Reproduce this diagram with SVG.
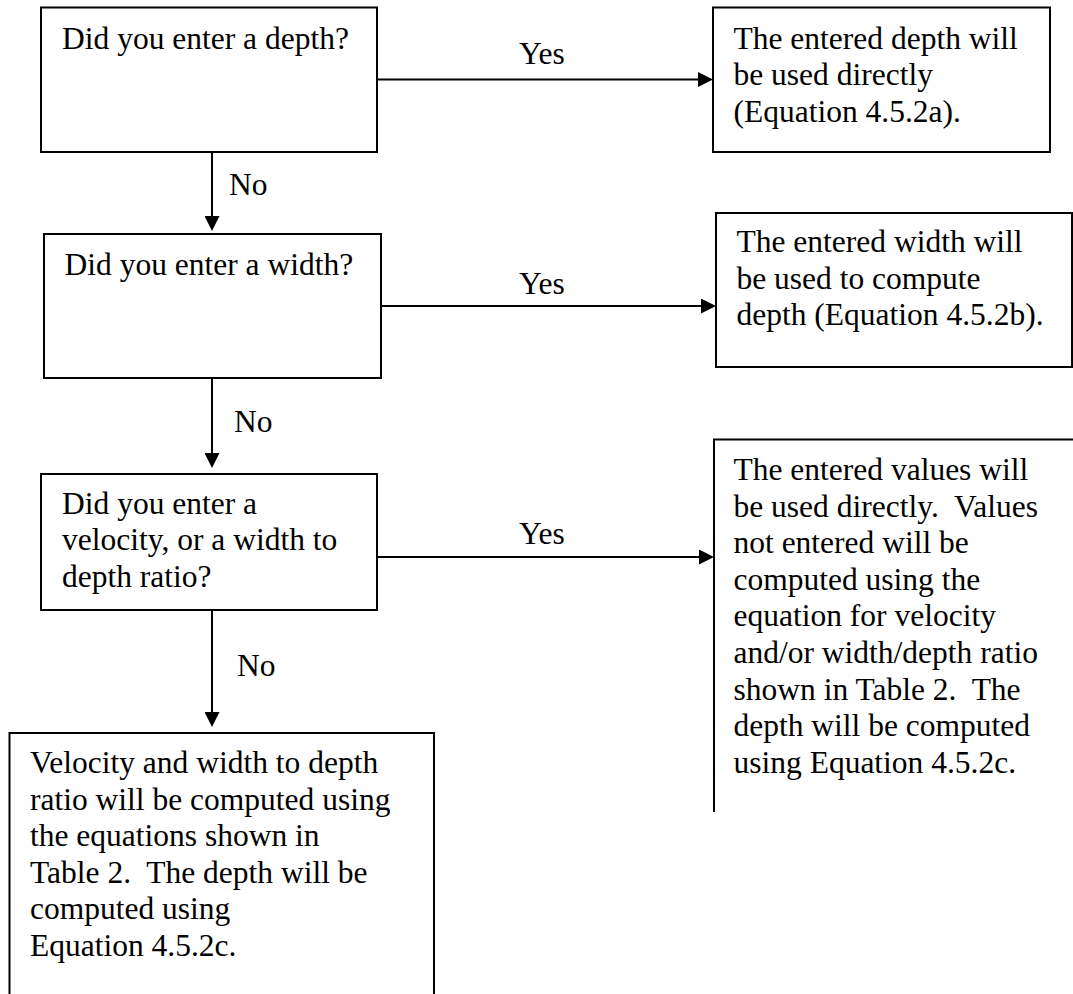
<svg xmlns="http://www.w3.org/2000/svg" width="1073" height="994" viewBox="0 0 1073 994">
<style>
.box{fill:#fff;stroke:#000;stroke-width:2}
.t{font-family:"Liberation Serif","Times New Roman",serif;font-size:31.5px;fill:#000;white-space:pre}
.c{stroke:#000;stroke-width:2;fill:none}
</style>
<defs>
<marker id="ah" viewBox="0 0 15 15" refX="13" refY="7.5" markerWidth="15" markerHeight="15" markerUnits="userSpaceOnUse" orient="auto">
<path d="M0,0 L15,7.5 L0,15 Z" fill="#000"/>
</marker>
</defs>
<rect width="1073" height="994" fill="#fff"/>
<g id="connectors">
<line class="c" x1="377" y1="79.5" x2="711" y2="79.5" marker-end="url(#ah)"/>
<text class="t" x="519" y="63.5">Yes</text>
<line class="c" x1="212" y1="152" x2="212" y2="229" marker-end="url(#ah)"/>
<text class="t" x="229" y="195">No</text>
<line class="c" x1="381" y1="306" x2="714" y2="306" marker-end="url(#ah)"/>
<text class="t" x="519" y="293.5">Yes</text>
<line class="c" x1="212" y1="378" x2="212" y2="466" marker-end="url(#ah)"/>
<text class="t" x="234" y="432">No</text>
<line class="c" x1="377" y1="557" x2="712" y2="557" marker-end="url(#ah)"/>
<text class="t" x="519" y="543.5">Yes</text>
<line class="c" x1="212" y1="610" x2="212" y2="725" marker-end="url(#ah)"/>
<text class="t" x="237" y="676">No</text>
</g>
<g id="q-depth">
<rect class="box" x="41" y="7.5" width="336" height="144.5"/>
<text class="t" x="62" y="48.5">Did you enter a depth?</text>
</g>
<g id="q-width">
<rect class="box" x="44" y="234" width="337" height="144"/>
<text class="t" x="64.5" y="275">Did you enter a width?</text>
</g>
<g id="q-velocity">
<rect class="box" x="41" y="474" width="336" height="136"/>
<text class="t" x="62" y="513.5">Did you enter a</text>
<text class="t" x="62" y="550">velocity, or a width to</text>
<text class="t" x="62" y="586.5">depth ratio?</text>
</g>
<g id="r-depth">
<rect class="box" x="713" y="7.5" width="337" height="144.5"/>
<text class="t" x="733.5" y="48.5">The entered depth will</text>
<text class="t" x="733.5" y="85">be used directly</text>
<text class="t" x="733.5" y="121.5">(Equation 4.5.2a).</text>
</g>
<g id="r-width">
<rect class="box" x="716" y="213" width="356" height="154"/>
<text class="t" x="736.5" y="252">The entered width will</text>
<text class="t" x="736.5" y="288.5">be used to compute</text>
<text class="t" x="736.5" y="325">depth (Equation 4.5.2b).</text>
</g>
<g id="r-values">
<path class="box" d="M1080,439.5 H714 V812" fill="none"/>
<text class="t" x="733.5" y="480">The entered values will</text>
<text class="t" x="733.5" y="516.6">be used directly.  Values</text>
<text class="t" x="733.5" y="553.2">not entered will be</text>
<text class="t" x="733.5" y="589.8">computed using the</text>
<text class="t" x="733.5" y="626.4">equation for velocity</text>
<text class="t" x="733.5" y="663">and/or width/depth ratio</text>
<text class="t" x="733.5" y="699.6">shown in Table 2.  The</text>
<text class="t" x="733.5" y="736.2">depth will be computed</text>
<text class="t" x="733.5" y="772.8">using Equation 4.5.2c.</text>
</g>
<g id="r-computed">
<rect class="box" x="9.5" y="733" width="424.5" height="280"/>
<text class="t" x="30" y="773">Velocity and width to depth</text>
<text class="t" x="30" y="809.5">ratio will be computed using</text>
<text class="t" x="30" y="846">the equations shown in</text>
<text class="t" x="30" y="882.5">Table 2.  The depth will be</text>
<text class="t" x="30" y="919">computed using</text>
<text class="t" x="30" y="955.5">Equation 4.5.2c.</text>
</g>
</svg>
